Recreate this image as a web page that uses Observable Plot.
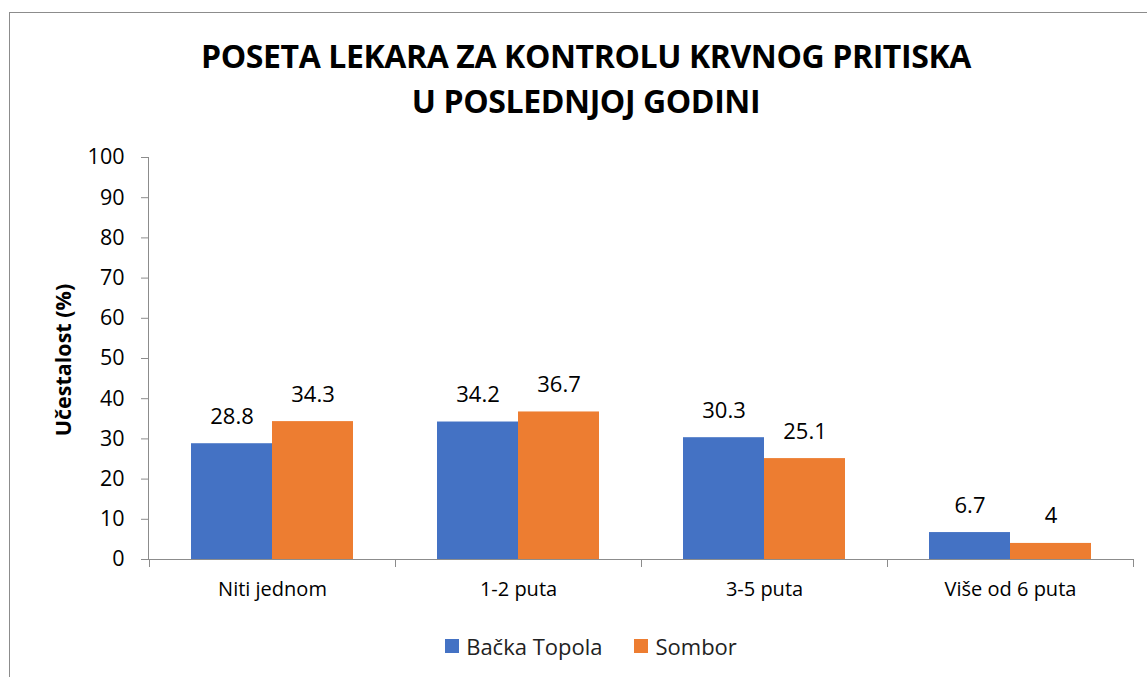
<!DOCTYPE html>
<html><head><meta charset="utf-8">
<script src="https://cdn.jsdelivr.net/npm/d3@7"></script>
<script src="https://cdn.jsdelivr.net/npm/@observablehq/plot@0.6"></script>
<style>
body{margin:0;background:#fff;font-family:"Open Sans",sans-serif;width:1147px;height:677px;overflow:hidden;position:relative;}
#frame{position:absolute;left:9px;top:12px;width:1200px;height:700px;border:1px solid #8c8c8c;}
#title{position:absolute;left:0;width:1172px;top:33px;text-align:center;font-weight:bold;font-size:32px;letter-spacing:-0.4px;line-height:45px;color:#000;}
#chart{position:absolute;left:0;top:130px;}
#ylabel{position:absolute;left:62px;top:360px;transform:translate(-50%,-50%) rotate(-90deg);white-space:nowrap;font-weight:bold;font-size:21.5px;color:#000;}
#legend{position:absolute;top:631px;left:0;width:1182px;height:30px;display:flex;justify-content:center;align-items:center;font-size:22px;color:#222;}
#legend .item{display:flex;align-items:center;margin:0 16px;}
#legend .sw{width:14px;height:14px;margin-right:7px;}
</style></head>
<body>
<div id="frame"></div>
<div id="title">POSETA LEKARA ZA KONTROLU KRVNOG PRITISKA<br>U POSLEDNJOJ GODINI</div>
<div id="chart"></div>
<div id="ylabel">Učestalost (%)</div>
<div id="legend"></div>
<script>
const categories = ["Niti jednom", "1-2 puta", "3-5 puta", "Više od 6 puta"];
const seriesNames = ["Bačka Topola", "Sombor"];
const backaTopola = [28.8, 34.2, 30.3, 6.7];
const sombor = [34.3, 36.7, 25.1, 4];
const yTicks = [0, 10, 20, 30, 40, 50, 60, 70, 80, 90, 100];
const colors = ["#4472C4", "#ED7D31"];

const data = categories.flatMap((c, i) => [
  {category: c, series: seriesNames[0], value: backaTopola[i]},
  {category: c, series: seriesNames[1], value: sombor[i]}
]);

const plot = Plot.plot({
  width: 1147, height: 480,
  marginTop: 27, marginBottom: 51, marginLeft: 148, marginRight: 13,
  style: {fontFamily: "Open Sans", fontSize: "21px", color: "#000", background: "transparent", overflow: "visible"},
  fx: {domain: categories, padding: 0, label: null},
  x: {domain: seriesNames, paddingInner: 0, paddingOuter: 0.508, axis: null},
  y: {domain: [0, 100], label: null},
  color: {domain: seriesNames, range: colors},
  marks: [
    Plot.axisY({ticks: yTicks, tickSize: 8, tickPadding: 17, label: null, stroke: "#8c8c8c", fill: "#000", fontSize: 21.5}),
    Plot.axisFx({anchor: "bottom", tickSize: 0, tickPadding: 22, label: null, fontSize: 20, fill: "#000"}),
    Plot.barY(data, {fx: "category", x: "series", y: "value", fill: "series"}),
    Plot.ruleY([0], {stroke: "#8c8c8c"}),
    Plot.text(data, {fx: "category", x: "series", y: "value", text: d => String(d.value), dy: -20, lineAnchor: "bottom", fontSize: 22, fill: "#000"})
  ]
});
document.getElementById("chart").appendChild(plot);

// axis line and group boundary ticks from the plot's own scales
const fx = plot.scale("fx"), y = plot.scale("y");
const svg = d3.select(plot);
const g = svg.append("g").attr("stroke", "#8c8c8c").attr("stroke-width", 1);
g.append("line").attr("x1", 148.5).attr("x2", 148.5).attr("y1", y.apply(100)).attr("y2", y.apply(0));
const bounds = categories.map(c => fx.apply(c)).concat([fx.apply(categories[categories.length - 1]) + fx.bandwidth]);
bounds.forEach(b => {
  g.append("line").attr("x1", Math.round(b) + 0.5).attr("x2", Math.round(b) + 0.5).attr("y1", y.apply(0)).attr("y2", y.apply(0) + 8);
});

const legend = document.getElementById("legend");
seriesNames.forEach((s, i) => {
  const it = document.createElement("div"); it.className = "item";
  const sw = document.createElement("div"); sw.className = "sw"; sw.style.background = colors[i];
  const tx = document.createElement("span"); tx.textContent = s;
  it.appendChild(sw); it.appendChild(tx); legend.appendChild(it);
});
</script>
</body></html>
